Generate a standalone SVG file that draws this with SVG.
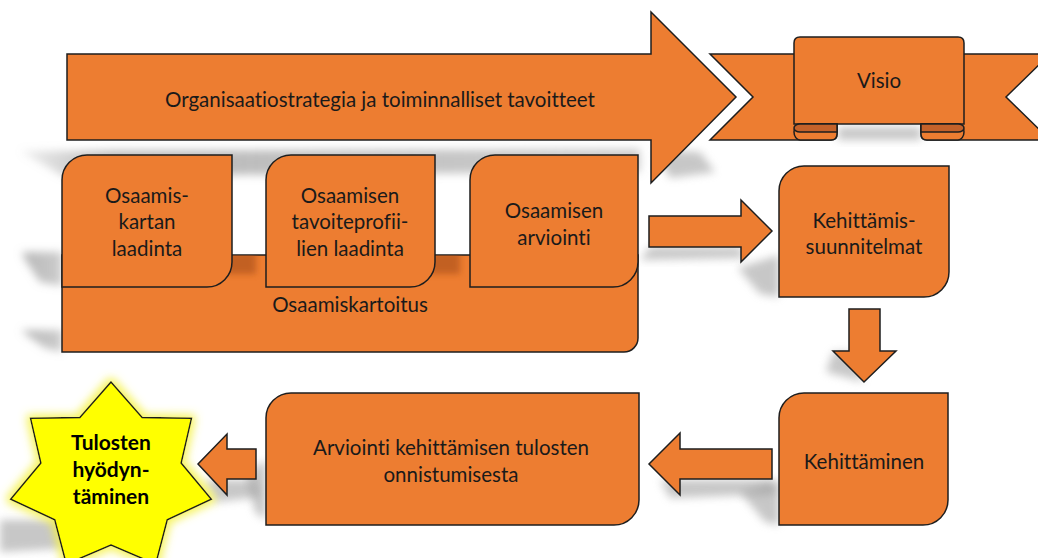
<svg xmlns="http://www.w3.org/2000/svg" width="1038" height="558" viewBox="0 0 1038 558">
  <defs>
    <style>
      .shape { fill: #ED7D31; stroke: #1e1e1e; stroke-width: 1.5; stroke-linejoin: miter; }
      .dark { fill: #C4622A; stroke: #1e1e1e; stroke-width: 1.5; }
      .label { font-family: Lato, "Open Sans", sans-serif; font-size: 20.5px; fill: #1a1a1a; text-anchor: middle; dominant-baseline: central; font-variant-ligatures: none; font-feature-settings: "liga" 0; }
      .bold { font-weight: bold; font-size: 21px; fill: #000; }
      .shadow { fill: #9a9a9a; opacity: 0.55; filter: url(#soft); }
    </style>
    <filter id="soft" x="-20%" y="-50%" width="140%" height="200%">
      <feGaussianBlur stdDeviation="4"/>
    </filter>
    <filter id="inner" x="-20%" y="-50%" width="140%" height="200%">
      <feGaussianBlur stdDeviation="3"/>
    </filter>
    <filter id="glow" x="-30%" y="-30%" width="160%" height="160%">
      <feMorphology in="SourceAlpha" operator="dilate" radius="3" result="grow"/>
      <feGaussianBlur in="grow" stdDeviation="4" result="blur"/>
      <feFlood flood-color="#F5F24A" flood-opacity="0.85"/>
      <feComposite in2="blur" operator="in" result="halo"/>
      <feMerge>
        <feMergeNode in="halo"/>
        <feMergeNode in="SourceGraphic"/>
      </feMerge>
    </filter>
    <linearGradient id="fadeLeft" x1="0" x2="1" y1="0" y2="0">
      <stop offset="0" stop-color="#9a9a9a" stop-opacity="0.15"/>
      <stop offset="0.15" stop-color="#9a9a9a" stop-opacity="0.7"/>
      <stop offset="1" stop-color="#9a9a9a" stop-opacity="0.5"/>
    </linearGradient>
    <clipPath id="baseClip">
      <path d="M62,255 H638 V338 A14 14 0 0 1 624,352 H62 Z"/>
    </clipPath>
  </defs>

  <!-- soft cast shadows -->
  <g id="shadows">
    <polygon points="20,151 640,149 640,172 63,176" fill="url(#fadeLeft)" filter="url(#soft)"/>
    <polygon points="20,252 62,252 62,286 40,282" fill="url(#fadeLeft)" filter="url(#soft)"/>
    <polygon points="20,330 62,330 62,352 45,348" fill="url(#fadeLeft)" filter="url(#soft)"/>
    <polygon class="shadow" points="655,150 700,152 715,172 670,178"/>
    <polygon class="shadow" points="838,127 921,127 921,140 838,140"/>
    <polygon class="shadow" points="650,247 740,247 745,258 640,260"/>
    <polygon class="shadow" points="779,255 779,297 760,294 738,268"/>
    <polygon class="shadow" points="833,352 849,352 864,382 826,372"/>
    <polygon class="shadow" points="779,480 779,525 765,522 740,492"/>
    <polygon class="shadow" points="660,480 772,480 776,494 670,498"/>
    <polygon class="shadow" points="266,460 266,520 255,512 246,472"/>
    <polygon class="shadow" points="205,480 256,480 260,497 215,502"/>
    <polygon class="shadow" points="0,520 60,520 70,548 0,552"/>
  </g>

  <!-- strategy arrow -->
  <g id="strategy">
    <polygon class="shape" points="67,54 651,54 651,12 736,97 651,183 651,140 67,140"/>
    <text class="label" x="380" y="99">Organisaatiostrategia ja toiminnalliset tavoitteet</text>
  </g>

  <!-- vision ribbon -->
  <g id="visio">
    <path class="shape" d="M710,54 H837 V134 Q837,140 831,140 H710 L753,97 Z"/>
    <path class="shape" d="M1050,54 H921 V134 Q921,140 927,140 H1050 L1006,97 Z"/>
    <path class="shape" d="M794,124 V43 Q794,37 800,37 H958 Q964,37 964,43 V124 Z"/>
    <path class="shape" d="M837,124 H800 A6,8 0 0 0 800,140 H831 Q837,140 837,134 Z"/>
    <path class="dark" d="M837,124 H800 A6,4 0 0 0 800,132 H837 Z"/>
    <path class="shape" d="M921,124 H958 A6,8 0 0 1 958,140 H927 Q921,140 921,134 Z"/>
    <path class="dark" d="M921,124 H958 A6,4 0 0 1 958,132 H921 Z"/>
    <text class="label" x="879" y="80">Visio</text>
  </g>

  <!-- competence mapping base -->
  <g id="osaamiskartoitus">
    <path class="shape" d="M62,255 H638 V338 A14 14 0 0 1 624,352 H62 Z"/>
    <g clip-path="url(#baseClip)">
      <rect x="226" y="252" width="30" height="22" fill="#A04A15" opacity="0.55" filter="url(#inner)"/>
      <rect x="430" y="252" width="30" height="22" fill="#A04A15" opacity="0.55" filter="url(#inner)"/>
    </g>
    <text class="label" x="350" y="304">Osaamiskartoitus</text>
  </g>

  <g id="kartta">
    <path class="shape" d="M62,180 A25 25 0 0 1 87,155 H232 V262 A25 25 0 0 1 207,287 H62 Z"/>
    <text class="label" x="147" y="195">Osaamis-</text>
    <text class="label" x="147" y="221">kartan</text>
    <text class="label" x="147" y="248">laadinta</text>
  </g>

  <g id="tavoiteprofiilit">
    <path class="shape" d="M266,180 A25 25 0 0 1 291,155 H435 V262 A25 25 0 0 1 410,287 H266 Z"/>
    <text class="label" x="350" y="195">Osaamisen</text>
    <text class="label" x="350" y="221">tavoiteprofii-</text>
    <text class="label" x="350" y="248">lien laadinta</text>
  </g>

  <g id="arviointi">
    <path class="shape" d="M470,180 A25 25 0 0 1 495,155 H638 V262 A25 25 0 0 1 613,287 H470 Z"/>
    <text class="label" x="554" y="210">Osaamisen</text>
    <text class="label" x="554" y="237">arviointi</text>
  </g>

  <g id="suunnitelmat">
    <path class="shape" d="M779,191 A25 25 0 0 1 804,166 H949 V272 A25 25 0 0 1 924,297 H779 Z"/>
    <text class="label" x="864" y="220">Kehittämis-</text>
    <text class="label" x="864" y="246">suunnitelmat</text>
  </g>

  <g id="kehittaminen">
    <path class="shape" d="M779,418 A25 25 0 0 1 804,393 H948 V500 A25 25 0 0 1 923,525 H779 Z"/>
    <text class="label" x="864" y="461">Kehittäminen</text>
  </g>

  <g id="tulosarviointi">
    <path class="shape" d="M266,418 A25 25 0 0 1 291,393 H639 V500 A25 25 0 0 1 614,525 H266 Z"/>
    <text class="label" x="451" y="447">Arviointi kehittämisen tulosten</text>
    <text class="label" x="451" y="474">onnistumisesta</text>
  </g>

  <g id="hyodyntaminen">
    <polygon points="111,382 142.2,417.6 191.5,418.3 181.2,463.1 211.4,499.3 167.3,519.8 155.7,564.3 111,545 66.3,564.3 54.7,519.8 10.6,499.3 40.8,463.1 30.5,418.3 79.8,417.6" fill="#FFFF00" stroke="#1e1e1e" stroke-width="1.5" filter="url(#glow)"/>
    <text class="label bold" x="111" y="441">Tulosten</text>
    <text class="label bold" x="111" y="468">hyödyn-</text>
    <text class="label bold" x="111" y="495">täminen</text>
  </g>

  <!-- block arrows between steps -->
  <g id="connectors">
    <polygon class="shape" points="649,216 741,216 741,200 772,231 741,262 741,247 649,247"/>
    <polygon class="shape" points="849,309 880,309 880,351 896,351 864,382 833,351 849,351"/>
    <polygon class="shape" points="772,449 680,449 680,433 649,464 680,495 680,479 772,479"/>
    <polygon class="shape" points="256,449 227,449 227,434 198,464 227,495 227,479 256,479"/>
  </g>
</svg>
